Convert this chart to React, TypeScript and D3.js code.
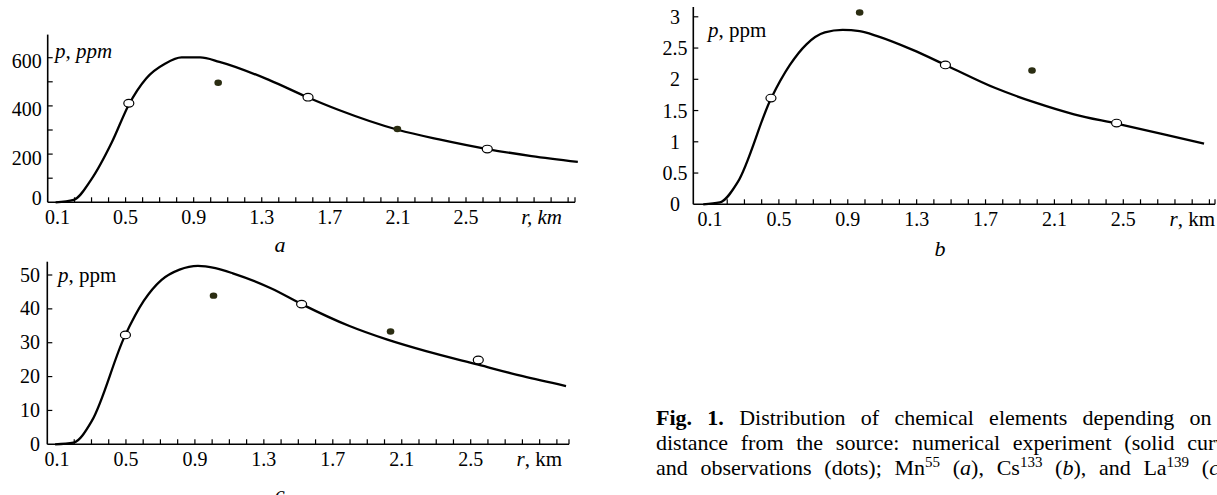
import React from 'react';
import * as d3 from 'd3';

type Pt = [number, number];

const xLabels = [0.1, 0.5, 0.9, 1.3, 1.7, 2.1, 2.5];

// a: Mn55
const mnCurve: Pt[] = [[0.089, 0], [0.195, 10], [0.297, 93], [0.42, 250], [0.519, 405], [0.621, 514], [0.734, 576], [0.829, 601], [0.938, 601], [1.051, 583], [1.345, 507], [1.572, 435], [1.753, 383], [2.104, 300], [2.342, 261], [2.625, 221], [2.885, 192], [3.157, 168]];
const mnOpen: Pt[] = [[0.519, 411], [1.572, 436], [2.625, 221]];
const mnDots: Pt[] = [[1.044, 496], [2.097, 304]];
const mnYTicks = [0, 200, 400, 600];
const mnYMinor = [100, 200, 300, 400, 500, 600];

// b: Cs133
const csCurve: Pt[] = [[0.061, 0], [0.157, 0.03], [0.26, 0.35], [0.454, 1.69], [0.564, 2.23], [0.66, 2.56], [0.767, 2.75], [0.87, 2.79], [0.969, 2.77], [1.071, 2.69], [1.277, 2.47], [1.467, 2.23], [1.757, 1.86], [1.986, 1.63], [2.214, 1.44], [2.461, 1.29], [2.717, 1.13], [2.969, 0.97]];
const csOpen: Pt[] = [[0.454, 1.7], [1.467, 2.23], [2.461, 1.3]];
const csDots: Pt[] = [[0.969, 3.07], [1.97, 2.14]];
const csYTicks = [0, 0.5, 1, 1.5, 2, 2.5, 3];
const csYMinor = [0.5, 1, 1.5, 2, 2.5, 3];

// c: La139
const laCurve: Pt[] = [[0.089, 0], [0.196, 0.5], [0.302, 6.9], [0.492, 31.8], [0.604, 42.4], [0.705, 48.5], [0.811, 51.6], [0.918, 52.7], [1.019, 52.0], [1.12, 50.5], [1.344, 46.0], [1.519, 41.4], [1.793, 35.0], [2.017, 30.9], [2.241, 27.5], [2.544, 23.5], [2.802, 20.1], [3.053, 17.2]];
const laOpen: Pt[] = [[0.497, 32.3], [1.519, 41.4], [2.544, 24.9]];
const laDots: Pt[] = [[1.008, 43.9], [2.035, 33.3]];
const laYTicks = [0, 10, 20, 30, 40, 50];
const laYMinor = [10, 20, 30, 40, 50];

const FONT = '"Liberation Serif", "DejaVu Serif", serif';
const DOT = '#2b2d12';

function Panel({ cfg }: { cfg: any }) {
  const x = d3.scaleLinear().domain([0.1, 2.5]).range(cfg.xr);
  const y = d3.scaleLinear().domain(cfg.yd).range(cfg.yr);
  const line = d3.line<Pt>().x(d => x(d[0])).y(d => y(d[1])).curve(d3.curveMonotoneX);
  const y0 = y(0);
  const minorX = d3.range(0.2, x.invert(cfg.axisEnd) - 0.02, 0.1);

  return (
    <g fontFamily={FONT}>
      <path d={line(cfg.curve) || ''} fill="none" stroke="#000" strokeWidth={2.3} strokeLinejoin="round" />
      <line x1={cfg.axisX} x2={cfg.axisX} y1={cfg.axisTop} y2={y0} stroke="#000" strokeWidth={1.6} />
      <line x1={cfg.axisX} x2={cfg.axisEnd} y1={y0} y2={y0} stroke="#000" strokeWidth={1.6} />
      {minorX.map((t, i) => (
        <line key={'xt' + i} x1={x(t)} x2={x(t)} y1={y0} y2={y0 - 5} stroke="#000" strokeWidth={1.2} />
      ))}
      <line x1={cfg.axisEnd} x2={cfg.axisEnd} y1={y0} y2={y0 - 5} stroke="#000" strokeWidth={1.2} />
      {cfg.yMinor.map((t: number, i: number) => (
        <line key={'yt' + i} x1={cfg.axisX} x2={cfg.axisX + 5} y1={y(t)} y2={y(t)} stroke="#000" strokeWidth={1.2} />
      ))}
      {cfg.yTicks.map((t: number, i: number) => (
        <text key={'yl' + i} x={cfg.yLabelX} y={y(t) + cfg.yDy(t)} textAnchor={cfg.yAnchor} fontSize={20} fontFamily={FONT}>{String(t)}</text>
      ))}
      {xLabels.map((t, i) => (
        <text key={'xl' + i} x={x(t)} y={cfg.xLabelY} textAnchor="middle" fontSize={20} fontFamily={FONT}>{t.toFixed(1)}</text>
      ))}
      {cfg.open.map((d: Pt, i: number) => (
        <ellipse key={'o' + i} cx={x(d[0])} cy={y(d[1])} rx={5} ry={3.8} fill="#fff" stroke="#000" strokeWidth={1.2} />
      ))}
      {cfg.dots.map((d: Pt, i: number) => (
        <ellipse key={'f' + i} cx={x(d[0])} cy={y(d[1])} rx={3.8} ry={3.2} fill={DOT} />
      ))}
      <text x={cfg.pLabel[0]} y={cfg.pLabel[1]} fontSize={21} fontFamily={FONT}>
        <tspan fontStyle="italic">p</tspan>
        <tspan fontStyle={cfg.allItalic ? 'italic' : 'normal'}>, ppm</tspan>
      </text>
      <text x={cfg.rLabel[0]} y={cfg.xLabelY} textAnchor="end" fontSize={21} fontFamily={FONT}>
        <tspan fontStyle="italic">r</tspan>
        <tspan fontStyle={cfg.allItalic ? 'italic' : 'normal'}>, km</tspan>
      </text>
      <text x={cfg.letter[0]} y={cfg.letter[1]} textAnchor="middle" fontSize={22} fontStyle="italic" fontFamily={FONT}>{cfg.name}</text>
    </g>
  );
}

const panels = [
  {
    name: 'a', curve: mnCurve, open: mnOpen, dots: mnDots, yTicks: mnYTicks, yMinor: mnYMinor,
    xr: [57.5, 466], yd: [0, 600], yr: [202.3, 57.7], axisX: 47.7, axisEnd: 575, axisTop: 34.6,
    yLabelX: 41.7, yAnchor: 'end', yDy: (v: number) => (v === 0 ? 3 : 10.5), xLabelY: 224,
    pLabel: [55, 58], rLabel: [562], letter: [280, 252], allItalic: true,
  },
  {
    name: 'b', curve: csCurve, open: csOpen, dots: csDots, yTicks: csYTicks, yMinor: csYMinor,
    xr: [710, 1123.3], yd: [0, 3], yr: [204.3, 16.8], axisX: 693.3, axisEnd: 1215, axisTop: 7,
    yLabelX: 675, yAnchor: 'middle', yDy: () => 7, xLabelY: 226,
    pLabel: [708, 36.7], rLabel: [1215], letter: [940, 256], allItalic: false,
  },
  {
    name: 'c', curve: laCurve, open: laOpen, dots: laDots, yTicks: laYTicks, yMinor: laYMinor,
    xr: [57, 470.7], yd: [0, 50], yr: [444.3, 275], axisX: 47.3, axisEnd: 569, axisTop: 261.7,
    yLabelX: 40, yAnchor: 'end', yDy: () => 6.5, xLabelY: 466,
    pLabel: [58, 281.7], rLabel: [562], letter: [280, 501], allItalic: false,
  },
];

export default function App() {
  return (
    <svg width={1217} height={495} style={{ position: 'absolute', left: 0, top: 0, background: '#fff' }}>
      {panels.map(p => <Panel key={p.name} cfg={p} />)}
      <g fontFamily={FONT} fontSize={22}>
        <text x={656} y={425} style={{ wordSpacing: 9.8 }}>
          <tspan fontWeight="bold">Fig. 1.</tspan> Distribution of chemical elements depending on
        </text>
        <text x={656} y={450} style={{ wordSpacing: 7.2 }}>
          distance from the source: numerical experiment (solid curve)
        </text>
        <text x={656} y={475} style={{ wordSpacing: 7.2 }}>
          and observations (dots); Mn<tspan fontSize={15} baselineShift="super">55</tspan> (<tspan fontStyle="italic">a</tspan>), Cs<tspan fontSize={15} baselineShift="super">133</tspan> (<tspan fontStyle="italic">b</tspan>), and La<tspan fontSize={15} baselineShift="super">139</tspan> (<tspan fontStyle="italic">c</tspan>).
        </text>
      </g>
    </svg>
  );
}
